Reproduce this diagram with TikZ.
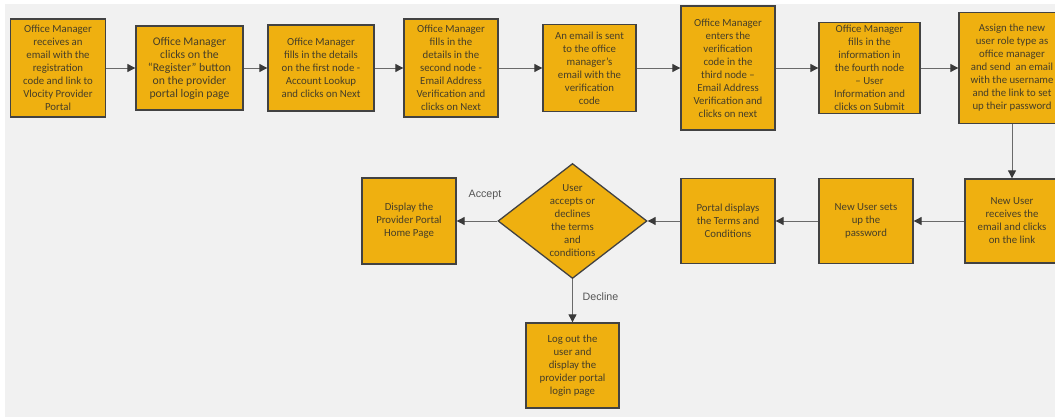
\documentclass[tikz,border=0pt]{standalone}
\usepackage{fontspec}
\setmainfont{Carlito}
\newfontfamily\labfont{Liberation Sans}
\usetikzlibrary{shapes.geometric,arrows.meta}
\definecolor{amber}{HTML}{EFB010}
\definecolor{boxline}{HTML}{424242}
\definecolor{txt}{HTML}{463E28}
\definecolor{bg}{HTML}{F1F1F1}
\definecolor{conn}{HTML}{6A6A6A}
\definecolor{tipc}{HTML}{3A3A3A}
\definecolor{labc}{HTML}{555555}
\begin{document}
\begin{tikzpicture}[x=1pt,y=-1pt,
  box/.style={draw=boxline, line width=1.3pt, fill=amber, text=txt, align=center,
    inner sep=0pt, font=\fontsize{10.8}{13}\selectfont},
  sz/.style 2 args={minimum width=#1pt, minimum height=#2pt},
  dia/.style={shape=diamond, draw=boxline, line width=1.3pt, fill=amber, inner sep=0pt,
    minimum width=149pt, minimum height=115pt},
  dtxt/.style={text=txt, align=center, font=\fontsize{10.8}{13}\selectfont},
  conn/.style={draw=conn, line width=0.9pt, -{Triangle[length=8pt,width=8pt,color=tipc]}},
  lab/.style={text=labc, font=\labfont\fontsize{10.7}{13}\selectfont}
]
\useasboundingbox (0,0) rectangle (1055,417);
\clip (0,0) rectangle (1055,417);
\fill[white] (0,0) rectangle (1055,417);
\fill[bg] (5,4) rectangle (1055,416.5);

% top row
\node[box, sz={95}{98}] (b1) at (58,68) {Office Manager\\receives an\\email with the\\registration\\code and link to\\Vlocity Provider\\Portal};
\node[box, sz={107}{84}, font=\fontsize{11.7}{13}\selectfont] (b2) at (189.5,68) {Office Manager\\clicks on the\\“Register” button\\on the provider\\portal login page};
\node[box, sz={106}{86}] (b3) at (321,68) {Office Manager\\fills in the details\\on the first node -\\Account Lookup\\and clicks on Next};
\node[box, sz={94}{98}] (b4) at (451,68) {Office Manager\\fills in the\\details in the\\second node -\\Email Address\\Verification and\\clicks on Next};
\node[box, sz={93}{87}] (b5) at (589.5,68) {An email is sent\\to the office\\manager’s\\email with the\\verification\\code};
\node[box, sz={94}{124}] (b6) at (728,68) {Office Manager\\enters the\\verification\\code in the\\third node –\\Email Address\\Verification and\\clicks on next};
\node[box, sz={101}{91}] (b7) at (869.5,68) {Office Manager\\fills in the\\information in\\the fourth node\\– User\\Information and\\clicks on Submit};
\node[box, sz={106}{111}] (b8) at (1012,68) {Assign the new\\user role type as\\office manager\\and send\ \ an email\\with the username\\and the link to set\\up their password};

% bottom row
\node[box, sz={94}{84}] (b9) at (1012,221) {New User\\receives the\\email and clicks\\on the link};
\node[box, sz={94}{85}] (b10) at (866,221) {New User sets\\up the\\password};
\node[box, sz={94}{85}] (b11) at (728,221) {Portal displays\\the Terms and\\Conditions};
\node[dia, label={[dtxt]center:{User\\accepts or\\declines\\the terms\\and\\conditions}}] (d) at (572.5,221) {};
\node[box, sz={94}{86}] (b12) at (409,221) {Display the\\Provider Portal\\Home Page};
\node[box, sz={93}{85}] (b13) at (572.5,365.5) {Log out the\\user and\\display the\\provider portal\\login page};

% connectors
\draw[conn] (b1) -- (b2);
\draw[conn] (b2) -- (b3);
\draw[conn] (b3) -- (b4);
\draw[conn] (b4) -- (b5);
\draw[conn] (b5) -- (b6);
\draw[conn] (b6) -- (b7);
\draw[conn] (b7) -- (b8);
\draw[conn] (b8) -- (b9);
\draw[conn] (b9) -- (b10);
\draw[conn] (b10) -- (b11);
\draw[conn] (b11) -- (d);
\draw[conn] (d) -- (b12);
\draw[conn] (d) -- (b13);

\node[lab] (acc) at (485,195) {Accept};
\node[lab] (dec) at (600.5,297) {Decline};
\end{tikzpicture}
\end{document}
